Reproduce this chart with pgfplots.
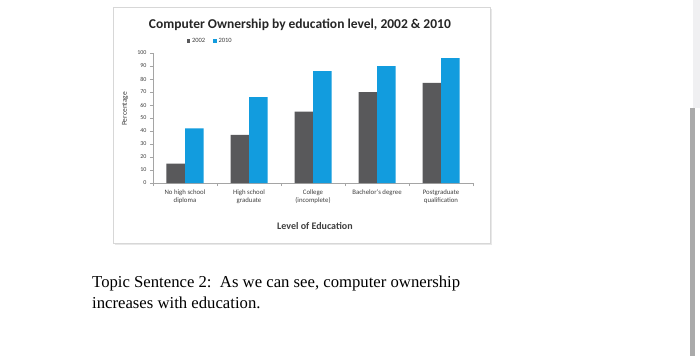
\documentclass[border=0pt]{standalone}
\usepackage{fontspec}
\setmainfont{Carlito}
\newfontfamily\timesfont{Liberation Serif}
\usepackage{pgfplots}
\pgfplotsset{compat=1.18}
\usetikzlibrary{backgrounds,calc}
\definecolor{c2002}{RGB}{89,89,91}
\definecolor{c2010}{RGB}{18,156,222}
\definecolor{axisgray}{RGB}{165,165,165}
\definecolor{labgray}{RGB}{64,64,64}
\definecolor{framegray}{RGB}{215,215,215}
\definecolor{striplight}{RGB}{240,240,242}
\definecolor{stripdark}{RGB}{170,170,170}
\definecolor{shadowgray}{RGB}{232,232,232}
\begin{document}
\begin{tikzpicture}[x=1pt,y=1pt]
\begin{axis}[
  scale only axis, width=320pt, height=130pt,
  ybar=0pt, bar width=18.5pt,
  xmin=0, xmax=5, ymin=0, ymax=100,
  axis x line=bottom, axis y line=left,
  axis line style={draw=axisgray, -},
  xtick={0.5,1.5,2.5,3.5,4.5},
  xticklabels={{No high school\\diploma},{High school\\graduate},{College\\(incomplete)},{Bachelor's degree},{Postgraduate\\qualification}},
  xticklabel style={align=center, font=\fontsize{6.8}{8.5}\selectfont, text=labgray},
  major x tick style={draw=none},
  minor xtick={0,1,2,3,4,5},
  minor x tick style={draw=axisgray},
  minor tick length=3pt,
  ytick={0,10,...,100},
  yticklabel style={font=\fontsize{6}{7}\selectfont, text=labgray},
  /pgf/number format/assume math mode=true,
  y tick style={draw=axisgray},
  major tick length=3pt,
  tick align=outside,
  title={\bfseries Computer Ownership by education level, 2002 \& 2010},
  title style={at={(0.459,1.146)}, anchor=base, font=\fontsize{13.5}{15}\selectfont, text=black!85},
  xlabel={\bfseries Level of Education},
  xlabel style={at={(0.506,-0.331)}, anchor=center, font=\fontsize{10}{12}\selectfont, text=labgray},
  ylabel={Percentage},
  ylabel style={at={(-0.0875,0.57)}, anchor=center, font=\fontsize{7.5}{9}\selectfont, text=labgray},
  legend style={at={(0.095,1.092)}, anchor=west, draw=none, fill=none, legend columns=2,
    font=\fontsize{6.5}{7.5}\selectfont, text=labgray,
    /tikz/every even column/.append style={column sep=6pt}},
  legend image code/.code={\fill[#1] (0pt,-1.7pt) rectangle (3.4pt,1.7pt);},
  clip=false,
]
\addplot[fill=c2002, draw=none] coordinates {(0.5,15) (1.5,37) (2.5,55) (3.5,70) (4.5,77)};
\addplot[fill=c2010, draw=none] coordinates {(0.5,42) (1.5,66) (2.5,86) (3.5,90) (4.5,96)};
\legend{2002,2010}
\coordinate (O) at (rel axis cs:0,0);
\end{axis}
\pgfresetboundingbox
\begin{scope}[shift={($(O)+(-153,-173)$)}]
\useasboundingbox (0,0) rectangle (700,356);
\node[anchor=base west, font=\timesfont\fontsize{16.7}{19}\selectfont, inner sep=0pt] at (92,69) {Topic Sentence 2:\ \ As we can see, computer ownership};
\node[anchor=base west, font=\timesfont\fontsize{16.7}{19}\selectfont, inner sep=0pt] at (92,48) {increases with education.};
\end{scope}
\begin{scope}[on background layer, shift={($(O)+(-153,-173)$)}]
\fill[white] (0,0) rectangle (700,356);
\fill[striplight] (693,248) rectangle (700,356);
\fill[stripdark] (690,0) rectangle (695,248);
\fill[shadowgray] (115,111) rectangle (492,347);
\filldraw[fill=white, draw=framegray] (113,113) rectangle (490,349);
\end{scope}
\end{tikzpicture}
\end{document}
